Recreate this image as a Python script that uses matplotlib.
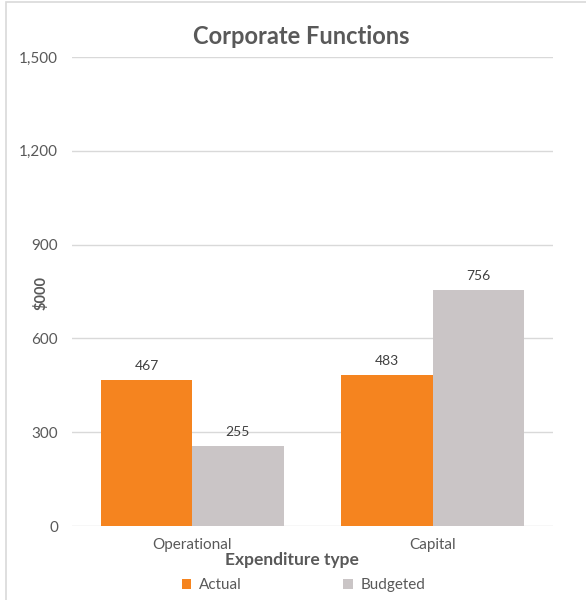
import matplotlib.pyplot as plt
import numpy as np
from matplotlib.patches import Rectangle

categories = ["Operational", "Capital"]
actual = [467, 483]
budgeted = [255, 756]
yticks = [0, 300, 600, 900, 1200, 1500]

plt.rcParams["font.family"] = ["Lato", "DejaVu Sans"]

fig = plt.figure(figsize=(5.86, 6.0), dpi=100)
ax = fig.add_axes([72 / 586, 1 - 526 / 600, 481 / 586, 469 / 600])

# outer chart border
fig.patches.append(Rectangle((6 / 586, -0.1), 1.0, 1 - 2 / 600 + 0.1,
                             transform=fig.transFigure, fill=False,
                             edgecolor="#D9D9D9", linewidth=1.2))

x = np.arange(len(categories))
w = 0.38
b1 = ax.bar(x - w / 2, actual, w, color="#F5841F", label="Actual", zorder=3)
b2 = ax.bar(x + w / 2, budgeted, w, color="#CAC5C6", label="Budgeted", zorder=3)

for bars, vals in ((b1, actual), (b2, budgeted)):
    for rect, v in zip(bars, vals):
        ax.text(rect.get_x() + rect.get_width() / 2, v + 25, f"{v}",
                ha="center", va="bottom", fontsize=10, color="#404040")

ax.set_xlim(-0.5, 1.5)
ax.set_ylim(0, 1500)
ax.set_yticks(yticks)
ax.set_yticklabels([f"{t:,}" for t in yticks])
ax.set_xticks(x)
ax.set_xticklabels(categories)
ax.tick_params(axis="both", length=0, labelsize=11, labelcolor="#595959")
ax.tick_params(axis="y", pad=10)
ax.tick_params(axis="x", pad=9)
ax.grid(axis="y", color="#D9D9D9", linewidth=1, zorder=0)
for s in ax.spines.values():
    s.set_visible(False)

# title centred on the whole chart area
fig.text(301 / 586, 1 - 37 / 600, "Corporate Functions", fontsize=17,
         fontweight="bold", color="#595959", ha="center", va="center")

ax.set_xlabel("Expenditure type", fontsize=12.5, fontweight="bold",
              color="#595959")
ax.xaxis.set_label_coords(0.457, -0.055)
ax.set_ylabel("$000", fontsize=10.5, fontweight="bold", color="#595959")
ax.yaxis.set_label_coords(-0.049, 0.497)

ax.legend(loc="upper center", bbox_to_anchor=(0.481, -0.082), ncol=2,
          frameon=False, fontsize=11, handlelength=0.65, handleheight=0.65,
          handletextpad=0.5, columnspacing=6.6, labelcolor="#595959")

fig.savefig("out.png", dpi=100)
